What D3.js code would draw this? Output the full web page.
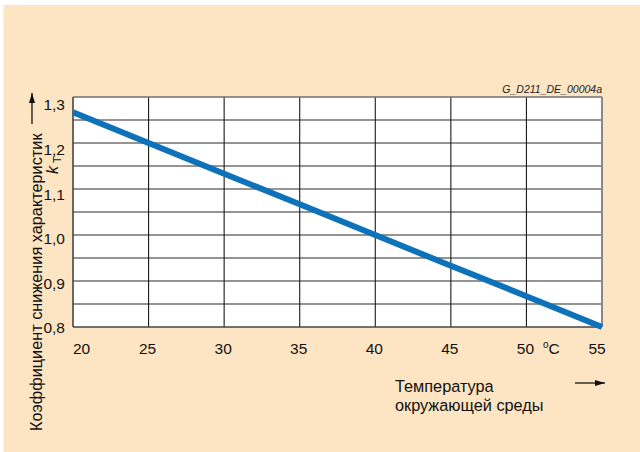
<!DOCTYPE html>
<html>
<head>
<meta charset="utf-8">
<script src="https://cdn.jsdelivr.net/npm/d3@7"></script>
<style>
  body { margin: 0; background: #fff; }
  svg { display: block; font-family: "Liberation Sans", Arial, sans-serif; }
</style>
</head>
<body>
<div id="chart"></div>
<script>
// data
const temps = [20, 25, 30, 35, 40, 45, 50, 55]
const kT = [1.267, 1.2, 1.133, 1.067, 1.0, 0.933, 0.867, 0.8]
const xTicks = [20, 25, 30, 35, 40, 45, 50, 55]
const yTicks = [0.8, 0.9, 1.0, 1.1, 1.2, 1.3]
const yGrid = [0.85, 0.9, 0.95, 1.0, 1.05, 1.1, 1.15, 1.2, 1.25]
const yTitle = 'Коэффициент снижения характеристик'
const xTitle = ['Температура', 'окружающей среды']
const code = 'G_D211_DE_00004a'

const W = 640, H = 452
const margin = { top: 97, left: 73, right: 38, bottom: 125 }
const width = W - margin.left - margin.right
const height = H - margin.top - margin.bottom

const svg = d3.select('#chart').append('svg')
  .attr('width', W).attr('height', H)

// beige panel
svg.append('rect')
  .attr('x', 3.5).attr('y', 5)
  .attr('width', W - 3.5).attr('height', H - 5)
  .attr('fill', '#fde4c2')

const defs = svg.append('defs')
defs.append('marker')
  .attr('id', 'arr')
  .attr('viewBox', '0 0 10 6')
  .attr('refX', 10).attr('refY', 3)
  .attr('markerWidth', 10).attr('markerHeight', 6)
  .attr('markerUnits', 'userSpaceOnUse')
  .attr('orient', 'auto')
  .append('path').attr('d', 'M0,0L10,3L0,6Z').attr('fill', '#111')

const g = svg.append('g')
  .attr('transform', `translate(${margin.left},${margin.top})`)

const x = d3.scaleLinear().domain([20, 55]).range([0, width])
const y = d3.scaleLinear().domain([0.8, 1.3]).range([height, 0])
// labels in the original sit slightly off their grid lines
const yLab = d3.scaleLinear().domain([0.8, 1.3]).range([height + 1, 8])

g.append('rect')
  .attr('width', width).attr('height', height)
  .attr('fill', '#fff')

// horizontal grid
g.selectAll('.hgrid')
  .data(yGrid)
  .enter().append('line')
  .attr('class', 'hgrid')
  .attr('x1', 0).attr('x2', width)
  .attr('y1', d => y(d)).attr('y2', d => y(d))
  .attr('stroke', '#707070')
  .attr('stroke-width', 1.6)

// vertical grid
g.selectAll('.vgrid')
  .data(xTicks.slice(1, -1))
  .enter().append('line')
  .attr('class', 'vgrid')
  .attr('x1', d => x(d)).attr('x2', d => x(d))
  .attr('y1', 0).attr('y2', height)
  .attr('stroke', '#1a1a1a')
  .attr('stroke-width', 1.1)

// frame
g.append('line').attr('x1', 0).attr('x2', width).attr('y1', 0).attr('y2', 0)
  .attr('stroke', '#707070').attr('stroke-width', 1.6)
g.append('line').attr('x1', width).attr('x2', width).attr('y1', 0).attr('y2', height)
  .attr('stroke', '#888').attr('stroke-width', 2)
g.append('line').attr('x1', 0).attr('x2', 0).attr('y1', 0).attr('y2', height)
  .attr('stroke', '#444').attr('stroke-width', 1.6)
g.append('line').attr('x1', 0).attr('x2', width).attr('y1', height).attr('y2', height)
  .attr('stroke', '#444').attr('stroke-width', 1.6)

// the curve
const line = d3.line()
  .x((d, i) => x(temps[i]))
  .y(d => y(d))
g.append('path')
  .datum(kT)
  .attr('d', line)
  .attr('fill', 'none')
  .attr('stroke', '#0d72ba')
  .attr('stroke-width', 6)

// tick labels
const fmt = d3.formatLocale({ decimal: ',', thousands: ' ', grouping: [3], currency: ['', ''] }).format('.1f')

g.selectAll('.ylab')
  .data(yTicks)
  .enter().append('text')
  .attr('x', -8)
  .attr('y', d => yLab(d))
  .attr('dy', '0.35em')
  .attr('text-anchor', 'end')
  .attr('font-size', 15.5)
  .attr('fill', '#111')
  .text(d => fmt(d))

g.selectAll('.xlab')
  .data(xTicks)
  .enter().append('text')
  .attr('x', d => d === 20 ? 0 : d === 55 ? x(d) - 5 : x(d) - 1)
  .attr('y', height + 27)
  .attr('text-anchor', d => d === 20 ? 'start' : 'middle')
  .attr('font-size', 15.5)
  .attr('fill', '#111')
  .text(d => d)

// unit
const unit = g.append('text')
  .attr('x', 470)
  .attr('y', height + 27)
  .attr('font-size', 15.5)
  .attr('fill', '#111')
unit.append('tspan').attr('font-size', 10).attr('dy', -6).text('o')
unit.append('tspan').attr('dy', 6).text('C')

// code top right
svg.append('text')
  .attr('x', margin.left + width)
  .attr('y', 93)
  .attr('text-anchor', 'end')
  .attr('font-size', 10.5)
  .attr('font-style', 'italic')
  .attr('fill', '#222')
  .text(code)

// y title
svg.append('text')
  .attr('transform', 'translate(42,431) rotate(-90)')
  .attr('font-size', 16.3)
  .attr('fill', '#111')
  .text(yTitle)

const kt = svg.append('text')
  .attr('transform', 'translate(58,174) rotate(-90)')
  .attr('font-size', 16)
  .attr('fill', '#111')
kt.append('tspan').attr('font-style', 'italic').text('k')
kt.append('tspan').attr('font-size', 11).attr('dx', 3).attr('dy', 3).text('T')

svg.append('line')
  .attr('x1', 32).attr('y1', 124)
  .attr('x2', 32).attr('y2', 93)
  .attr('stroke', '#111').attr('stroke-width', 1.3)
  .attr('marker-end', 'url(#arr)')

// x title
svg.selectAll('.xtitle')
  .data(xTitle)
  .enter().append('text')
  .attr('x', 395)
  .attr('y', (d, i) => 392 + i * 19)
  .attr('font-size', 16.3)
  .attr('fill', '#111')
  .text(d => d)

svg.append('line')
  .attr('x1', 575).attr('y1', 383)
  .attr('x2', 605).attr('y2', 383)
  .attr('stroke', '#111').attr('stroke-width', 1.3)
  .attr('marker-end', 'url(#arr)')
</script>
</body>
</html>
